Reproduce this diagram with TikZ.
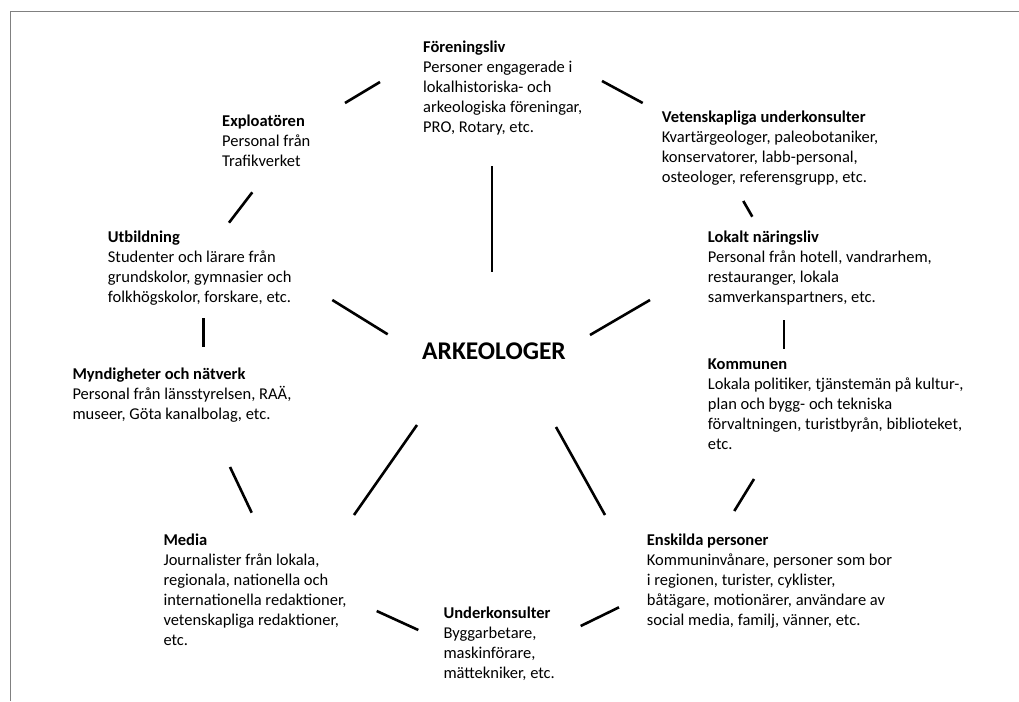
\documentclass[tikz,border=0pt]{standalone}
\usepackage{fontspec}
\setmainfont{Carlito}
\definecolor{framegray}{RGB}{128,128,128}
\begin{document}
\begin{tikzpicture}[x=1pt,y=-1pt,
  blk/.style={anchor=north west, inner sep=0pt, align=left, font=\fontsize{16.5}{20}\selectfont},
  centre/.style={anchor=base west, inner sep=0pt, font=\fontsize{25.5}{30}\selectfont\bfseries},
  conn/.style={line width=2.6pt, black},
  framestyle/.style={draw=framegray, line width=1.8pt}]
\useasboundingbox (0,0) rectangle (1019,701);
\draw[framestyle] (10.5,701) -- (10.5,11.5) -- (1019,11.5);

\node[blk] (foren) at (423,38) {\strut\textbf{Föreningsliv}\\Personer engagerade i\\lokalhistoriska- och\\arkeologiska föreningar,\\PRO, Rotary, etc.};
\node[blk] (explo) at (222,112.5) {\strut\textbf{Exploatören}\\Personal från\\Trafikverket};
\node[blk] (vet) at (661.7,108) {\strut\textbf{Vetenskapliga underkonsulter}\\Kvartärgeologer, paleobotaniker,\\konservatorer, labb-personal,\\osteologer, referensgrupp, etc.};
\node[blk] (utb) at (107.7,228.7) {\strut\textbf{Utbildning}\\Studenter och lärare från\\grundskolor, gymnasier och\\folkhögskolor, forskare, etc.};
\node[blk] (lokalt) at (707.7,228.7) {\strut\textbf{Lokalt näringsliv}\\Personal från hotell, vandrarhem,\\restauranger, lokala\\samverkanspartners, etc.};
\node[blk] (mynd) at (72.3,365) {\strut\textbf{Myndigheter och nätverk}\\Personal från länsstyrelsen, RAÄ,\\museer, Göta kanalbolag, etc.};
\node[blk] (kommun) at (707.7,355) {\strut\textbf{Kommunen}\\Lokala politiker, tjänstemän på kultur-,\\plan och bygg- och tekniska\\förvaltningen, turistbyrån, biblioteket,\\etc.};
\node[blk] (media) at (163.3,531) {\strut\textbf{Media}\\Journalister från lokala,\\regionala, nationella och\\internationella redaktioner,\\vetenskapliga redaktioner,\\etc.};
\node[blk] (under) at (443.3,604.3) {\strut\textbf{Underkonsulter}\\Byggarbetare,\\maskinförare,\\mättekniker, etc.};
\node[blk] (ensk) at (646.7,531) {\strut\textbf{Enskilda personer}\\Kommuninvånare, personer som bor\\i regionen, turister, cyklister,\\båtägare, motionärer, användare av\\social media, familj, vänner, etc.};
\node[centre] (ark) at (422,359) {ARKEOLOGER};

% connector end points
\coordinate (foren-explo-a) at (345,103);   \coordinate (foren-explo-b) at (380,82);
\coordinate (foren-vet-a) at (602,81);      \coordinate (foren-vet-b) at (642.7,103);
\coordinate (foren-ark-a) at (492,166);     \coordinate (foren-ark-b) at (492,272);
\coordinate (explo-utb-a) at (229,222.7);   \coordinate (explo-utb-b) at (252.3,192.3);
\coordinate (utb-ark-a) at (332.3,300);     \coordinate (utb-ark-b) at (387.7,334.3);
\coordinate (vet-lokalt-a) at (743.3,201);  \coordinate (vet-lokalt-b) at (752.3,216.7);
\coordinate (lokalt-ark-a) at (650,300);    \coordinate (lokalt-ark-b) at (590,335);
\coordinate (utb-mynd-a) at (203.3,318.3);  \coordinate (utb-mynd-b) at (203.3,346.7);
\coordinate (lokalt-kommun-a) at (784,320); \coordinate (lokalt-kommun-b) at (784,349);
\coordinate (mynd-media-a) at (230,467);    \coordinate (mynd-media-b) at (251.7,512.7);
\coordinate (ark-media-a) at (417,425);     \coordinate (ark-media-b) at (354,515);
\coordinate (ark-ensk-a) at (556,427);      \coordinate (ark-ensk-b) at (605,515);
\coordinate (kommun-ensk-a) at (754,479);   \coordinate (kommun-ensk-b) at (734.3,511);
\coordinate (media-under-a) at (376.7,611); \coordinate (media-under-b) at (418.3,630);
\coordinate (under-ensk-a) at (580.7,626);  \coordinate (under-ensk-b) at (619,607.3);

\foreach \c in {foren-explo,foren-vet,foren-ark,explo-utb,utb-ark,vet-lokalt,lokalt-ark,utb-mynd,lokalt-kommun,mynd-media,ark-media,ark-ensk,kommun-ensk,media-under,under-ensk}
  \draw[conn] (\c-a) -- (\c-b);
\end{tikzpicture}
\end{document}
